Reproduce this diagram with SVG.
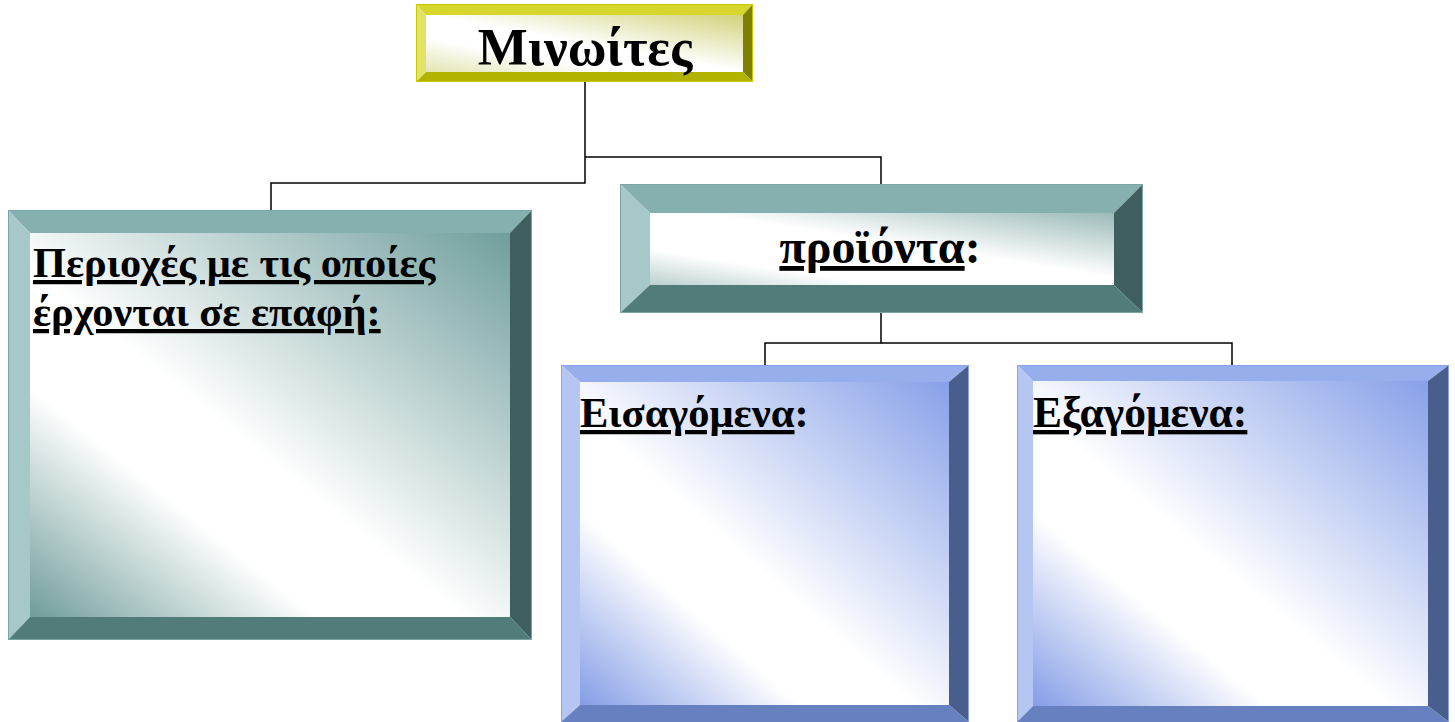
<svg xmlns="http://www.w3.org/2000/svg" width="1455" height="722" viewBox="0 0 1455 722">
<defs>
<linearGradient id="gTeal" x1="1" y1="0" x2="0" y2="1">
<stop offset="0" stop-color="#6f9e9c"/>
<stop offset="0.55" stop-color="#ffffff"/>
<stop offset="0.7" stop-color="#ffffff"/>
<stop offset="1" stop-color="#6f9c9a"/>
</linearGradient>
<linearGradient id="gTeal2" x1="1" y1="0" x2="0" y2="1">
<stop offset="0" stop-color="#9bbab9"/>
<stop offset="0.45" stop-color="#ffffff"/>
<stop offset="0.75" stop-color="#ffffff"/>
<stop offset="1" stop-color="#bcd0cf"/>
</linearGradient>
<linearGradient id="gBlue" x1="1" y1="0" x2="0" y2="1">
<stop offset="0" stop-color="#87a0e8"/>
<stop offset="0.55" stop-color="#ffffff"/>
<stop offset="0.7" stop-color="#ffffff"/>
<stop offset="1" stop-color="#849de6"/>
</linearGradient>
<linearGradient id="gYellow" x1="1" y1="0" x2="0" y2="1">
<stop offset="0" stop-color="#d2d27c"/>
<stop offset="0.5" stop-color="#ffffff"/>
<stop offset="0.7" stop-color="#ffffff"/>
<stop offset="1" stop-color="#e4e4b4"/>
</linearGradient>
</defs>
<style>
.t{font-family:"Liberation Serif","DejaVu Serif",serif;font-weight:bold;fill:#000}
.u{text-decoration:underline}
.conn{stroke:#000;stroke-width:1.5;fill:none}
.yT{fill:#d6d62c}.yL{fill:#e2e266}.yR{fill:#7f7f00}.yB{fill:#b2b200}
.tT{fill:#86afaf}.tL{fill:#a6c8c8}.tR{fill:#3e5f5e}.tB{fill:#527c7a}
.bT{fill:#97aeec}.bL{fill:#b5c6f3}.bR{fill:#4a5e8e}.bB{fill:#6680c0}
.edgeT{stroke:#7aa5a4;stroke-width:1;fill:none}
.edgeB{stroke:#8aa3e6;stroke-width:1;fill:none}
.edgeY{stroke:#c8c800;stroke-width:1;fill:none}
</style>
<rect width="1455" height="722" fill="#ffffff"/>

<g id="connectors">
<polyline class="conn" points="585,82 585,183 271,183 271,210"/>
<polyline class="conn" points="585,157 881,157 881,184"/>
<polyline class="conn" points="881,313 881,343 765,343 765,365"/>
<polyline class="conn" points="881,343 1232,343 1232,365"/>
</g>

<g id="node-minoites">
<rect x="426" y="15" width="317" height="57" fill="url(#gYellow)"/>
<polygon class="yT" points="416,4 753,4 743,15 426,15"/>
<polygon class="yL" points="416,4 426,15 426,72 416,82"/>
<polygon class="yR" points="753,4 753,82 743,72 743,15"/>
<polygon class="yB" points="416,82 426,72 743,72 753,82"/>
<rect class="edgeY" x="416.5" y="4.5" width="336" height="77"/>
<text class="t" x="585" y="65" font-size="53" text-anchor="middle">Μινωίτες</text>
</g>

<g id="node-periohes">
<rect x="30" y="233" width="480" height="384" fill="url(#gTeal)"/>
<polygon class="tT" points="8,210 532,210 510,233 30,233"/>
<polygon class="tL" points="8,210 30,233 30,617 8,640"/>
<polygon class="tR" points="532,210 532,640 510,617 510,233"/>
<polygon class="tB" points="8,640 30,617 510,617 532,640"/>
<rect class="edgeT" x="8.5" y="210.5" width="523" height="429"/>
<text class="t u" x="33" y="277" font-size="42.4">Περιοχές με τις οποίες</text>
<text class="t u" x="33" y="326" font-size="42.4">έρχονται σε επαφή:</text>
</g>

<g id="node-proionta">
<rect x="650" y="213" width="464" height="72" fill="url(#gTeal2)"/>
<polygon class="tT" points="620,184 1143,184 1114,213 650,213"/>
<polygon class="tL" points="620,184 650,213 650,285 620,313"/>
<polygon class="tR" points="1143,184 1143,313 1114,285 1114,213"/>
<polygon class="tB" points="620,313 650,285 1114,285 1143,313"/>
<rect class="edgeT" x="620.5" y="184.5" width="522" height="128"/>
<text class="t" x="880" y="263" font-size="48" text-anchor="middle"><tspan class="u">προϊόντα</tspan>:</text>
</g>

<g id="node-eisagomena">
<rect x="580" y="382" width="369" height="323" fill="url(#gBlue)"/>
<polygon class="bT" points="561,365 969,365 949,382 580,382"/>
<polygon class="bL" points="561,365 580,382 580,705 561,722"/>
<polygon class="bR" points="969,365 969,722 949,705 949,382"/>
<polygon class="bB" points="561,722 580,705 949,705 969,722"/>
<rect class="edgeB" x="561.5" y="365.5" width="407" height="357"/>
<text class="t" x="580" y="427" font-size="42.5"><tspan class="u">Εισαγόμενα</tspan>:</text>
</g>

<g id="node-exagomena">
<rect x="1033" y="381" width="395" height="325" fill="url(#gBlue)"/>
<polygon class="bT" points="1017,365 1449,365 1428,381 1033,381"/>
<polygon class="bL" points="1017,365 1033,381 1033,706 1017,722"/>
<polygon class="bR" points="1449,365 1449,722 1428,706 1428,381"/>
<polygon class="bB" points="1017,722 1033,706 1428,706 1449,722"/>
<rect class="edgeB" x="1017.5" y="365.5" width="431" height="357"/>
<text class="t u" x="1033" y="427" font-size="43.5">Εξαγόμενα:</text>
</g>
</svg>
